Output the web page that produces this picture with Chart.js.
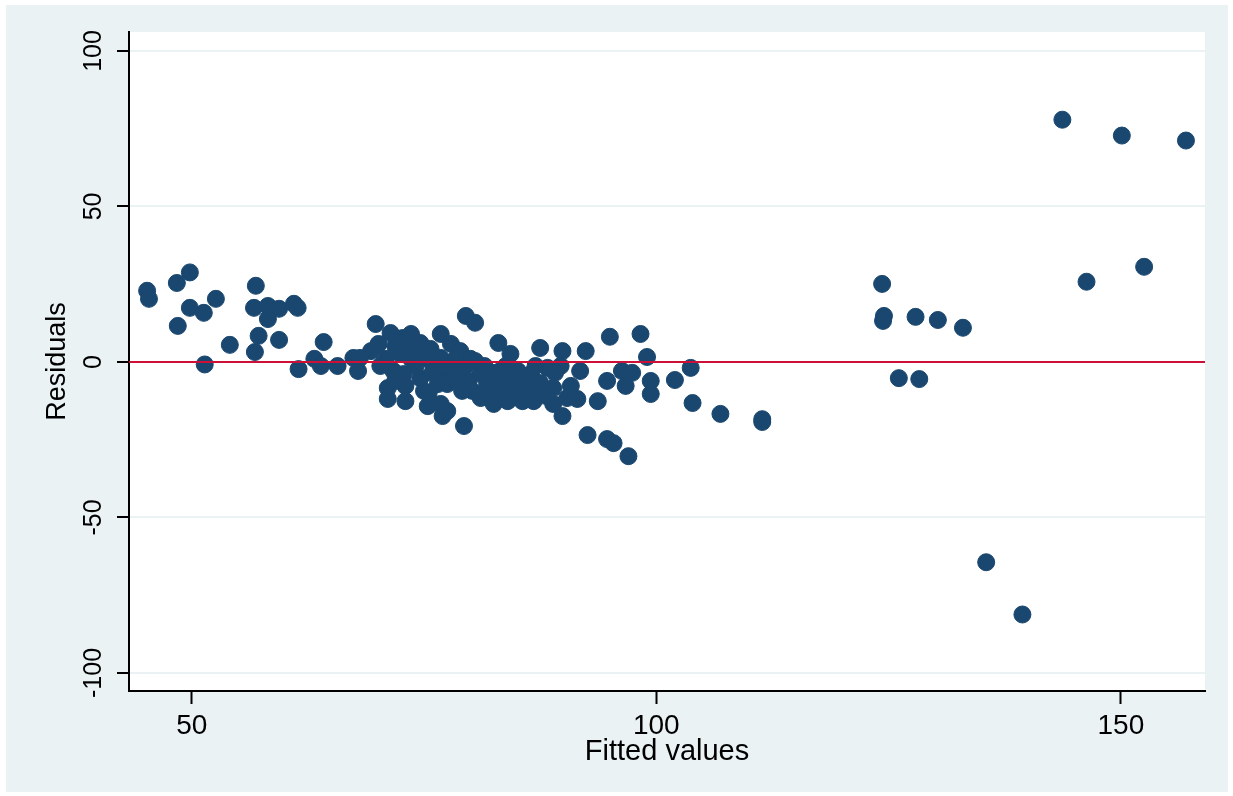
<!DOCTYPE html>
<html>
<head>
<meta charset="utf-8">
<title>Residuals vs fitted values</title>
<script src="https://cdn.jsdelivr.net/npm/chart.js@4.4.1/dist/chart.umd.min.js"></script>
<style>
  html, body { margin: 0; padding: 0; background: #ffffff; }
  canvas { display: block; }
</style>
</head>
<body>
<canvas id="chart" width="1233" height="796"></canvas>
<script>
// Fitted values (x) and residuals (y) of the regression, one entry per observation
const fittedValues = [
  45.2, 45.4, 48.4, 49.8, 48.5, 49.8, 51.3, 52.6, 51.4, 54.1,
  56.9, 56.7, 58.2, 59.4, 58.2, 61.0, 61.4, 57.2, 56.8, 59.4,
  64.2, 61.5, 63.2, 63.9, 69.8, 71.4, 72.7, 73.6, 74.6, 76.8,
  65.7, 67.4, 67.9, 69.3, 70.1, 70.9, 71.7, 72.5, 73.6, 74.6,
  75.7, 76.8, 72.8, 71.1, 71.1, 73.0, 73.0, 75.0, 75.4, 76.5,
  77.0, 77.0, 74.6, 79.5, 80.5, 77.9, 78.9, 83.0, 84.3, 87.5,
  89.9, 77.9, 77.5, 78.9, 79.8, 81.1, 81.8, 82.9, 83.6, 85.1,
  86.5, 85.4, 86.8, 88.3, 88.9, 81.1, 82.5, 84.0, 85.6, 86.8,
  88.9, 89.9, 76.8, 77.5, 79.3, 92.4, 95.0, 98.3, 99.0, 89.7,
  91.8, 96.3, 97.4, 94.7, 96.7, 99.4, 99.4, 102.0, 103.7, 103.9,
  106.9, 111.4, 111.4, 90.4, 91.5, 93.7, 92.6, 94.7, 95.4, 97.0,
  124.3, 124.5, 124.4, 127.9, 130.3, 133.0, 126.1, 128.3, 146.3, 152.5,
  143.7, 150.1, 157.0, 135.5, 139.4,
  71.9, 74.1, 75.7, 78.4, 80.0, 80.2, 82.2, 83.2, 84.3, 85.9,
  87.5, 88.1, 74.1, 70.3, 71.9, 68.1, 75.9, 78.4, 79.1, 87.0,
  84.8, 81.5, 83.2, 89.1, 90.8, 79.5, 80.5, 82.4, 83.8, 85.9,
  75.5, 73.3, 76.2
];
const residuals = [
  22.9, 20.3, 25.4, 28.8, 11.6, 17.4, 15.8, 20.3, -0.8, 5.5,
  24.5, 17.4, 18.0, 17.1, 13.8, 18.7, 17.4, 8.4, 3.2, 7.1,
  6.4, -2.3, 1.0, -1.3, 12.2, 9.3, 7.7, 9.0, 6.1, 9.0,
  -1.3, 1.3, -2.9, 3.5, 5.8, 1.0, -2.9, 2.6, 1.0, 2.6,
  0.3, 1.3, -3.9, -8.4, -11.9, -7.7, -12.6, -9.3, -14.2, -7.1,
  -17.4, -5.2, -5.2, 14.8, 12.6, 5.8, 3.5, 6.1, 2.6, 4.5,
  3.5, -1.9, -7.1, -1.9, -6.1, -3.9, -7.1, -6.1, -9.3, -2.9,
  -3.9, -8.4, -8.7, -1.9, -8.4, -11.6, -13.5, -12.6, -12.6, -12.6,
  -13.5, -17.4, -13.5, -15.8, -20.6, 3.5, 8.1, 9.0, 1.6, -1.3,
  -2.9, -2.9, -3.5, -6.1, -7.7, -6.1, -10.3, -5.8, -1.9, -13.2,
  -16.7, -19.3, -18.4, -11.6, -11.9, -12.6, -23.5, -24.8, -26.1, -30.3,
  25.1, 14.8, 13.2, 14.5, 13.5, 11.0, -5.2, -5.5, 25.8, 30.6,
  77.9, 72.8, 71.2, -64.4, -81.2,
  5.2, 4.2, 4.2, 1.0, 1.0, -9.3, -9.3, -10.9, -6.1, -5.5,
  -6.8, -10.9, -1.3, -1.3, -6.1, 1.3, -3.5, -4.5, -9.3, -1.3,
  -10.0, -1.3, -2.9, -3.5, -7.7, -1.3, 0.3, -3.5, -1.3, -10.0,
  -10.0, 4.5, -1.0
];

// Axis ranges and tick labels
const xRange = [43.25, 159.05];
const yRange = [-105.8, 106.1];
const xTickValues = [50, 100, 150];
const yTickValues = [-100, -50, 0, 50, 100];
const xTickLabels = ['50', '100', '150'];
const yTickLabels = ['-100', '-50', '0', '50', '100'];

// Reference line at zero
const zeroLine = [0, 0];

const points = fittedValues.map((x, i) => ({ x: x, y: residuals[i] }));

const PANEL = '#eaf2f3';
const MARKER = '#1a476f';

// Light outer panel with a white plot region
const panelBackground = {
  id: 'panelBackground',
  beforeDraw(chart) {
    const { ctx, chartArea: a, width, height } = chart;
    ctx.save();
    ctx.fillStyle = '#ffffff';
    ctx.fillRect(0, 0, width, height);
    ctx.fillStyle = PANEL;
    ctx.fillRect(6, 5, width - 11, height - 9);
    ctx.fillStyle = '#ffffff';
    ctx.fillRect(a.left, a.top, a.right - a.left, a.bottom - a.top);
    ctx.restore();
  }
};

new Chart(document.getElementById('chart'), {
  type: 'scatter',
  data: {
    datasets: [
      {
        label: 'zero',
        data: xRange.map((x, i) => ({ x: x, y: zeroLine[i] })),
        showLine: true,
        borderColor: '#cc1038',
        borderWidth: 2,
        pointRadius: 0,
        pointHoverRadius: 0
      },
      {
        label: 'Residuals',
        data: points,
        backgroundColor: MARKER,
        borderColor: MARKER,
        borderWidth: 1,
        pointRadius: 8.5,
        pointHoverRadius: 8.5
      }
    ]
  },
  options: {
    responsive: false,
    animation: false,
    devicePixelRatio: 1,
    layout: { padding: { left: 0, top: 32, right: 28, bottom: 0 } },
    plugins: {
      legend: { display: false },
      tooltip: { enabled: false }
    },
    scales: {
      x: {
        type: 'linear',
        min: xRange[0],
        max: xRange[1],
        afterBuildTicks(scale) { scale.ticks = xTickValues.map(v => ({ value: v })); },
        afterFit(scale) { scale.height = 105; },
        border: { display: true, color: '#000000', width: 2 },
        grid: { drawOnChartArea: false, tickLength: 13, tickColor: '#000000', tickWidth: 2 },
        ticks: {
          color: '#000000',
          padding: 5,
          maxRotation: 0,
          font: { family: 'Liberation Sans, Arial, sans-serif', size: 28 },
          callback(v) { const i = xTickValues.indexOf(v); return i >= 0 ? xTickLabels[i] : ''; }
        },
        title: {
          display: true,
          text: 'Fitted values',
          color: '#000000',
          font: { family: 'Liberation Sans, Arial, sans-serif', size: 29 },
          padding: { top: 0, bottom: 27 }
        }
      },
      y: {
        type: 'linear',
        min: yRange[0],
        max: yRange[1],
        afterBuildTicks(scale) { scale.ticks = yTickValues.map(v => ({ value: v })); },
        afterFit(scale) { scale.width = 129; },
        border: { display: true, color: '#000000', width: 2 },
        grid: { color: PANEL, lineWidth: 2, tickLength: 12, tickColor: '#000000', tickWidth: 2 },
        ticks: {
          color: '#000000',
          padding: -2,
          minRotation: 90,
          maxRotation: 90,
          crossAlign: 'center',
          font: { family: 'Liberation Sans, Arial, sans-serif', size: 25 },
          callback(v) { const i = yTickValues.indexOf(v); return i >= 0 ? yTickLabels[i] : ''; }
        },
        title: {
          display: true,
          text: 'Residuals',
          color: '#000000',
          font: { family: 'Liberation Sans, Arial, sans-serif', size: 27 },
          padding: { top: 41, bottom: 0 }
        }
      }
    }
  },
  plugins: [panelBackground]
});
</script>
</body>
</html>
